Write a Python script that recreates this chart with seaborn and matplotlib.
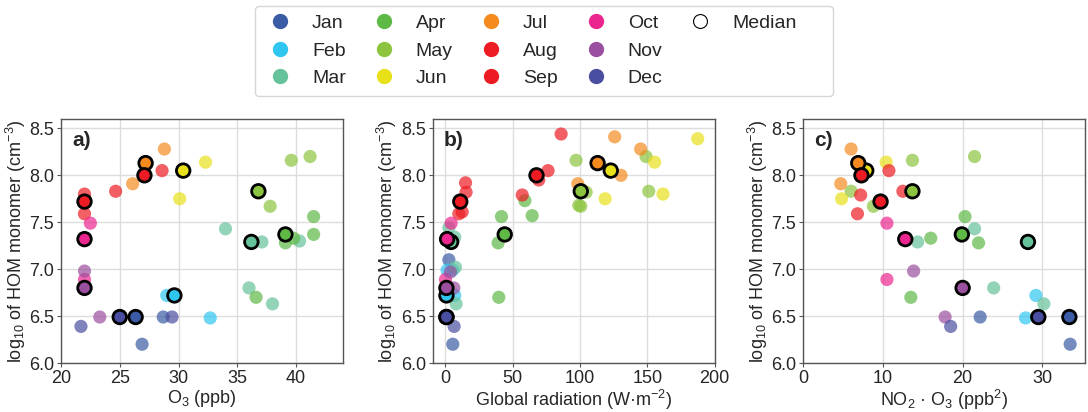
import matplotlib
matplotlib.use("Agg")
import matplotlib.pyplot as plt
from matplotlib.lines import Line2D
import seaborn as sns
import pandas as pd

months = ["Jan", "Feb", "Mar", "Apr", "May", "Jun", "Jul", "Aug", "Sep", "Oct", "Nov", "Dec"]
month_colors = ["#3b5ba5", "#2fc6f0", "#66c29a", "#5fb946", "#8cc43f", "#e8e11a",
                "#f58a1f", "#ed1c24", "#ed1c24", "#ec268f", "#9b4f9f", "#4a4ea0"]

# Median values per month (same y for all panels)
med_y = [6.49, 6.72, 7.29, 7.37, 7.83, 8.05, 8.13, 8.00, 7.72, 7.32, 6.80, 6.49]
med_x_a = [26.35, 29.65, 36.2, 39.1, 36.8, 30.4, 27.2, 27.1, 22.0, 22.0, 22.0, 25.0]
med_x_b = [0.7, 0.7, 4.2, 44.0, 100.5, 122.8, 113.0, 67.6, 11.0, 1.2, 0.7, 0.7]
med_x_c = [33.4, None, 28.2, 19.9, 13.7, 7.9, 6.9, 7.3, 9.7, 12.8, 20.0, 29.5]

# Panel a: O3
a_month = ["Jan", "Jan", "Feb", "Feb", "Mar", "Mar", "Mar", "Mar", "Mar",
           "Apr", "Apr", "Apr", "Apr", "Apr", "May", "May", "May", "Jun", "Jun",
           "Jul", "Jul", "Aug", "Aug", "Sep", "Sep", "Oct", "Oct", "Nov", "Nov", "Dec", "Dec"]
a_x = [26.9, 28.7, 29.0, 32.7, 34.0, 37.1, 36.0, 38.0, 40.3,
       36.6, 39.8, 41.5, 41.5, 39.1, 37.8, 39.6, 41.2, 32.3, 30.1,
       28.8, 26.1, 28.6, 24.65, 22.0, 22.0, 22.5, 22.0, 22.0, 23.3, 21.7, 29.45]
a_y = [6.20, 6.49, 6.72, 6.48, 7.43, 7.29, 6.80, 6.63, 7.30,
       6.70, 7.33, 7.56, 7.37, 7.28, 7.67, 8.16, 8.20, 8.14, 7.75,
       8.28, 7.91, 8.05, 7.83, 7.80, 7.59, 7.49, 6.89, 6.98, 6.49, 6.39, 6.49]

# Panel b: global radiation
b_month = ["Jan", "Jan", "Feb", "Feb", "Feb", "Mar", "Mar", "Mar", "Mar",
           "Apr", "Apr", "Apr", "Apr", "Apr", "May", "May", "May", "May", "May", "May",
           "Jun", "Jun", "Jun", "Jun", "Jul", "Jul", "Jul", "Jul",
           "Aug", "Aug", "Aug", "Aug", "Sep", "Sep", "Sep", "Sep",
           "Oct", "Oct", "Nov", "Nov", "Dec"]
b_x = [5.4, 2.5, 1.2, 5.4, 6.9, 2.5, 6.9, 7.4, 7.9,
       59.0, 64.4, 41.6, 39.1, 39.6, 97.0, 149.0, 104.5, 151.0, 99.0, 100.5,
       187.4, 155.4, 161.6, 118.6, 125.7, 145.0, 130.4, 98.3,
       85.9, 76.2, 69.3, 57.0, 14.9, 15.3, 12.4, 9.9,
       4.2, 0.0, 3.7, 6.2, 6.4]
b_y = [6.20, 7.10, 6.99, 6.99, 6.72, 7.44, 7.34, 7.02, 6.63,
       7.73, 7.57, 7.56, 7.28, 6.70, 8.16, 8.20, 7.82, 7.83, 7.68, 7.67,
       8.39, 8.14, 7.80, 7.75, 8.41, 8.28, 8.00, 7.91,
       8.44, 8.05, 7.95, 7.79, 7.92, 7.82, 7.61, 7.59,
       7.49, 6.89, 6.97, 6.80, 6.39]

# Panel c: NO2*O3
c_month = ["Jan", "Jan", "Feb", "Feb", "Mar", "Mar", "Mar", "Mar",
           "Apr", "Apr", "Apr", "Apr", "May", "May", "May", "May", "Jun", "Jun",
           "Jul", "Jul", "Aug", "Aug", "Sep", "Sep", "Oct", "Oct", "Nov", "Nov", "Dec"]
c_x = [33.5, 22.2, 29.2, 27.9, 14.35, 21.5, 23.9, 30.2,
       16.0, 20.3, 22.0, 13.5, 13.7, 21.5, 6.0, 8.8, 10.4, 4.8,
       6.0, 4.7, 10.75, 12.5, 7.2, 6.8, 10.5, 10.5, 13.85, 17.8, 18.5]
c_y = [6.20, 6.49, 6.72, 6.48, 7.29, 7.43, 6.80, 6.63,
       7.33, 7.56, 7.28, 6.70, 8.16, 8.20, 7.83, 7.67, 8.14, 7.75,
       8.28, 7.91, 8.05, 7.83, 7.79, 7.59, 7.49, 6.89, 6.98, 6.49, 6.39]

x_labels = ["O$_3$ (ppb)", "Global radiation (W·m$^{-2}$)", "NO$_2$ · O$_3$ (ppb$^2$)"]
panel_tags = ["a)", "b)", "c)"]
x_limits = [(20, 44), (-9.5, 200), (0, 35.4)]
x_ticks = [[20, 25, 30, 35, 40], [0, 50, 100, 150, 200], [0, 10, 20, 30]]
y_ticks = [6.0, 6.5, 7.0, 7.5, 8.0, 8.5]

sns.set_style("white")
plt.rcParams["font.family"] = ["Liberation Sans", "DejaVu Sans"]
plt.rcParams["mathtext.fontset"] = "custom"
plt.rcParams["mathtext.rm"] = "Liberation Sans"
plt.rcParams["mathtext.it"] = "Liberation Sans:italic"
plt.rcParams["mathtext.bf"] = "Liberation Sans:bold"

palette = dict(zip(months, month_colors))

fig = plt.figure(figsize=(10.88, 4.12), dpi=100)
lefts = [61 / 1088, 432.7 / 1088, 803.3 / 1088]
width = 282 / 1088
bottom = 49 / 412
height = 244 / 412

panels = [(a_month, a_x, a_y, med_x_a), (b_month, b_x, b_y, med_x_b), (c_month, c_x, c_y, med_x_c)]

for i, (pm, px, py, mx) in enumerate(panels):
    ax = fig.add_axes([lefts[i], bottom, width, height])
    ax.set_axisbelow(True)
    ax.grid(True, color="#dddddd", linewidth=1.0)
    df = pd.DataFrame({"month": pm, "x": px, "y": py})
    sns.scatterplot(data=df, x="x", y="y", hue="month", palette=palette, alpha=0.7,
                    s=90, linewidth=0, legend=False, ax=ax, zorder=3)
    dm = pd.DataFrame({"month": months, "x": mx, "y": med_y}).dropna()
    sns.scatterplot(data=dm, x="x", y="y", hue="month", palette=palette,
                    s=95, edgecolor="black", linewidth=2.0, legend=False, ax=ax, zorder=4)
    ax.set_xlim(*x_limits[i])
    ax.set_ylim(6.0, 8.6)
    ax.set_xticks(x_ticks[i])
    ax.set_yticks(y_ticks)
    ax.set_yticklabels([f"{v:.1f}" for v in y_ticks])
    ax.tick_params(axis="both", labelsize=13, length=3, width=0.8, color="#555555",
                   bottom=True, left=True, pad=2)
    for sp in ax.spines.values():
        sp.set_color("#555555")
        sp.set_linewidth(1.0)
    ax.set_xlabel(x_labels[i], fontsize=13, labelpad=1)
    ax.set_ylabel("log$_{10}$ of HOM monomer (cm$^{-3}$)", fontsize=13, labelpad=1)
    ax.text(0.04, 0.95, panel_tags[i], transform=ax.transAxes, fontsize=15,
            fontweight="bold", va="top", ha="left")

handles = [Line2D([0], [0], marker="o", linestyle="", markersize=10,
                  markerfacecolor=c, markeredgecolor=c, label=m)
           for m, c in zip(months, month_colors)]
handles.append(Line2D([0], [0], marker="o", linestyle="", markersize=10,
                      markerfacecolor="white", markeredgecolor="black",
                      markeredgewidth=0.8, label="Median"))
for _ in range(2):
    handles.append(Line2D([0], [0], linestyle="", marker=None, label=" " * 17))
fig.legend(handles=handles, loc="upper center", bbox_to_anchor=(0.5, 1.0), ncol=5,
           fontsize=14, frameon=True, edgecolor="#cccccc", handletextpad=0.85,
           columnspacing=1.15, labelspacing=0.5, borderpad=0.45, handlelength=1.6,
           borderaxespad=0.3)

fig.savefig("out.png", dpi=100)
